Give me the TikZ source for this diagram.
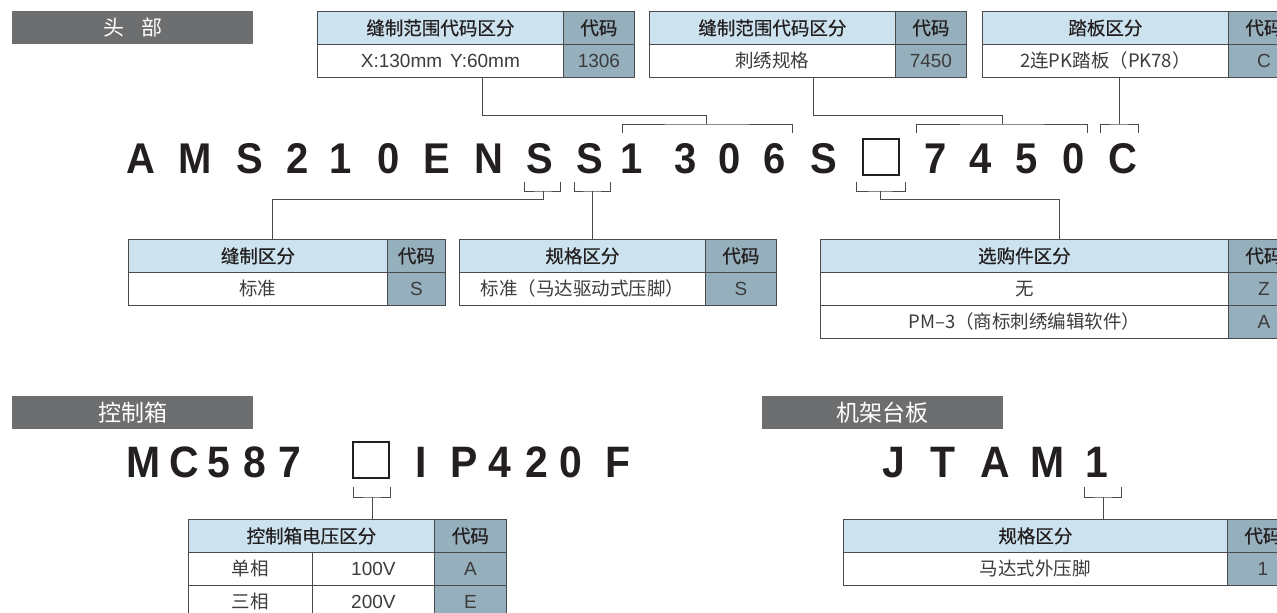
\documentclass[tikz,border=0pt]{standalone}
\usepackage{fontspec}
\usepackage{graphicx}
\setmainfont{Liberation Sans}
\newfontfamily\cjk{Noto Sans CJK SC}
\newfontfamily\cjkm{Noto Sans CJK SC}[FakeBold=0.6]
\newfontfamily\lat{Liberation Sans}
\definecolor{barG}{HTML}{6D6E70}
\definecolor{hdB}{HTML}{CCE3EF}
\definecolor{cdB}{HTML}{95AFBC}
\definecolor{lnG}{HTML}{4A4A4C}
\definecolor{txD}{HTML}{231F20}
\definecolor{txR}{HTML}{3C3C3C}
\newcommand{\cdl}[1]{\scalebox{0.93}[1]{\fontsize{43}{43}\selectfont\bfseries #1}}
\newcommand{\cdm}[1]{\scalebox{0.93}[1]{\fontsize{44}{44}\selectfont\bfseries #1}}
\begin{document}
\begin{tikzpicture}[x=1pt,y=-1pt,
  bar/.style={fill=barG,text=white,minimum width=241pt,minimum height=33pt,inner sep=0pt,anchor=north west,font=\cjk\fontsize{21}{21}\selectfont},
  cellb/.style={draw=lnG,line width=0.8pt,inner sep=0pt,minimum height=33pt,anchor=north west},
  hd/.style={cellb,fill=hdB,text=txD,font=\cjkm\fontsize{18.5}{18.5}\selectfont},
  hc/.style={cellb,fill=cdB,text=txD,font=\cjkm\fontsize{18.5}{18.5}\selectfont},
  rw/.style={cellb,fill=white,text=txR,font=\cjk\fontsize{18.5}{18.5}\selectfont},
  rl/.style={cellb,fill=white,text=txR,font=\lat\fontsize{19}{19}\selectfont},
  rc/.style={cellb,fill=cdB,text=txR,font=\lat\fontsize{19}{19}\selectfont},
  ch/.style={anchor=base,inner sep=0pt,text=txD,font=\lat},
  emb/.style={draw=txD,line width=1.3pt,minimum width=36pt,minimum height=36pt,inner sep=0pt},
  conn/.style={draw=lnG,line width=1pt},
]
\path[use as bounding box] (0,0) rectangle (1277,613);
\clip (0,0) rectangle (1277,613);

% ---------- section bars ----------
\node[bar] (barHead) at (12,11) {头\hspace{17pt}部};
\node[bar,font=\cjk\fontsize{23}{23}\selectfont] (barCtrl) at (12,396) {控制箱};
\node[bar,font=\cjk\fontsize{23}{23}\selectfont] (barFrame) at (762,396) {机架台板};

% ---------- top tables ----------
\node[hd,minimum width=246pt] (t1h) at (317,11) {缝制范围代码区分};
\node[hc,minimum width=71pt] (t1hc) at (563,11) {代码};
\node[rl,minimum width=246pt] (t1r) at (317,44) {X:130mm\hspace{8pt}Y:60mm};
\node[rc,minimum width=71pt] (t1rc) at (563,44) {1306};

\node[hd,minimum width=246pt] (t2h) at (649,11) {缝制范围代码区分};
\node[hc,minimum width=71pt] (t2hc) at (895,11) {代码};
\node[rw,minimum width=246pt] (t2r) at (649,44) {刺绣规格};
\node[rc,minimum width=71pt] (t2rc) at (895,44) {7450};

\node[hd,minimum width=246pt] (t3h) at (982,11) {踏板区分};
\node[hc,minimum width=71pt] (t3hc) at (1228,11) {代码};
\node[rw,minimum width=246pt] (t3r) at (982,44) {2连PK踏板（PK78）};
\node[rc,minimum width=71pt] (t3rc) at (1228,44) {C};

% ---------- model code (head) ----------
\foreach \c/\x [count=\i] in {A/141,M/195,S/250,2/298,1/341,0/389,E/437,N/489,S/540,S/590,1/632,3/686,0/730,6/775,S/824,7/936,4/981,5/1027,0/1074,C/1123}
  \node[ch] (h\i) at (\x,173) {\cdl{\c}};
\node[emb] (hbox) at (881,157) {};

% ---------- lower tables (head) ----------
\node[hd,minimum width=259pt] (t4h) at (128,239) {缝制区分};
\node[hc,minimum width=58pt] (t4hc) at (387,239) {代码};
\node[rw,minimum width=259pt] (t4r) at (128,272) {标准};
\node[rc,minimum width=58pt] (t4rc) at (387,272) {S};

\node[hd,minimum width=246pt] (t5h) at (459,239) {规格区分};
\node[hc,minimum width=71pt] (t5hc) at (705,239) {代码};
\node[rw,minimum width=246pt] (t5r) at (459,272) {标准（马达驱动式压脚）};
\node[rc,minimum width=71pt] (t5rc) at (705,272) {S};

\node[hd,minimum width=408pt] (t6h) at (820,239) {选购件区分};
\node[hc,minimum width=71pt] (t6hc) at (1228,239) {代码};
\node[rw,minimum width=408pt] (t6r1) at (820,272) {无};
\node[rc,minimum width=71pt] (t6rc1) at (1228,272) {Z};
\node[rw,minimum width=408pt] (t6r2) at (820,305) {PM–3（商标刺绣编辑软件）};
\node[rc,minimum width=71pt] (t6rc2) at (1228,305) {A};

% ---------- connectors (head) ----------
\coordinate (s1) at (482,77);   \coordinate (j1) at (706,124);
\coordinate (b1l) at (622,133); \coordinate (b1r) at (792,133);
\coordinate (s2) at (813,77);   \coordinate (j2) at (1002,124);
\coordinate (b2l) at (916,133); \coordinate (b2r) at (1087,133);
\coordinate (s3) at (1119,77);  \coordinate (j3) at (1119,124);
\coordinate (b3l) at (1100,133); \coordinate (b3r) at (1138,133);
\draw[conn] (s1) -- (482,115) -| (j1);
\draw[conn] (b1l) |- (j1) -| (b1r);
\draw[conn] (s2) -- (813,115) -| (j2);
\draw[conn] (b2l) |- (j2) -| (b2r);
\draw[conn] (s3) -- (j3);
\draw[conn] (b3l) |- (j3) -| (b3r);

\coordinate (b4l) at (524,182); \coordinate (b4r) at (560,182); \coordinate (j4) at (543,191);
\coordinate (e4) at (272,239);
\draw[conn] (b4l) |- (j4) -| (b4r);
\draw[conn] (j4) -- (543,199) -| (e4);
\coordinate (b5l) at (574,182); \coordinate (b5r) at (610,182); \coordinate (j5) at (592,191);
\coordinate (e5) at (592,239);
\draw[conn] (b5l) |- (j5) -| (b5r);
\draw[conn] (j5) -- (e5);
\coordinate (b6l) at (856,182); \coordinate (b6r) at (905,182); \coordinate (j6) at (880,191);
\coordinate (e6) at (1059,239);
\draw[conn] (b6l) |- (j6) -| (b6r);
\draw[conn] (j6) -- (880,199) -| (e6);

% ---------- control box ----------
\foreach \c/\x [count=\i] in {M/144,C/184,5/219,8/255,7/290,I/421,P/464,4/500,2/537,0/571,F/618}
  \node[ch] (m\i) at (\x,477) {\cdm{\c}};
\node[emb] (mbox) at (371,460) {};

\node[hd,minimum width=246pt] (t7h) at (188,519) {控制箱电压区分};
\node[hc,minimum width=72pt] (t7hc) at (434,519) {代码};
\node[rw,minimum width=124pt] (t7a1) at (188,552) {单相};
\node[rl,minimum width=122pt] (t7b1) at (312,552) {100V};
\node[rc,minimum width=72pt] (t7c1) at (434,552) {A};
\node[rw,minimum width=124pt] (t7a2) at (188,585) {三相};
\node[rl,minimum width=122pt] (t7b2) at (312,585) {200V};
\node[rc,minimum width=72pt] (t7c2) at (434,585) {E};

\coordinate (b7l) at (353,487); \coordinate (b7r) at (390,487); \coordinate (j7) at (372,497);
\coordinate (e7) at (372,519);
\draw[conn] (b7l) |- (j7) -| (b7r);
\draw[conn] (j7) -- (e7);

% ---------- frame table ----------
\foreach \c/\x [count=\i] in {J/894,T/943,A/995,M/1048,1/1097}
  \node[ch] (f\i) at (\x,477) {\cdm{\c}};

\node[hd,minimum width=384pt] (t8h) at (843,519) {规格区分};
\node[hc,minimum width=71pt] (t8hc) at (1227,519) {代码};
\node[rw,minimum width=384pt] (t8r) at (843,552) {马达式外压脚};
\node[rc,minimum width=71pt] (t8rc) at (1227,552) {1};

\coordinate (b8l) at (1084,487); \coordinate (b8r) at (1121,487); \coordinate (j8) at (1103,497);
\coordinate (e8) at (1103,519);
\draw[conn] (b8l) |- (j8) -| (b8r);
\draw[conn] (j8) -- (e8);
\end{tikzpicture}
\end{document}
